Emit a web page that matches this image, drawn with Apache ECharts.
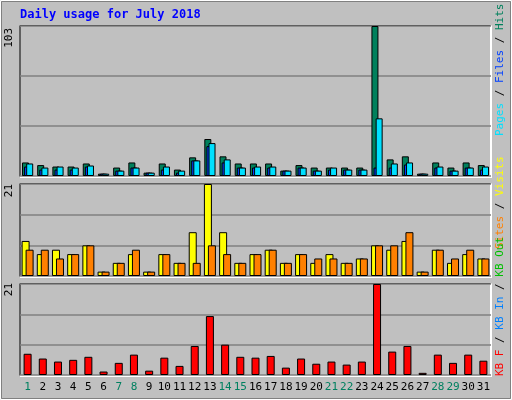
<!DOCTYPE html>
<html><head><meta charset="utf-8">
<script src="https://cdn.jsdelivr.net/npm/echarts@6/dist/echarts.min.js"></script>
<style>html,body{margin:0;padding:0;background:#c0c0c0}#c{width:512px;height:400px}</style>
</head><body><div id="c"></div>
<script>
const days = ['1','2','3','4','5','6','7','8','9','10','11','12','13','14','15','16','17','18','19','20','21','22','23','24','25','26','27','28','29','30','31'];
const weekends = ['1','7','8','14','15','21','22','28','29'];
const hits  = [9.3,7.5,6.5,6.5,8.6,1.6,5.8,9.3,2.3,8.6,4.4,12.8,25.4,13.5,8.6,8.6,8.6,3.7,7.5,5.8,5.8,5.8,5.8,103,11.4,13.5,1.6,9.3,5.8,9.3,7.5];
const files = [8.6,5.8,6.5,5.8,7.2,1.6,3.7,5.8,2.3,6.5,3.7,10.7,22.6,11.4,5.8,6.5,6.5,3.7,5.8,3.7,5.8,4.4,4.4,39.6,8.6,9.3,1.6,6.5,3.7,5.8,6.5];
const pages = [6.5,4.4,4.4,4.4,6.5,1.6,3.7,5.8,2.3,4.4,2.3,10.7,20.5,9.3,5.8,5.8,5.8,3.7,5.8,3.7,4.4,4.4,4.4,5.8,5.8,7.9,1.6,5.8,3.7,5.8,4.4];
const visits = [8,5,6,5,7,1,3,5,1,5,3,10,21,10,3,5,6,3,5,3,5,3,4,7,6,8,1,6,3,5,4];
const sites  = [6,6,4,5,7,1,3,6,1,5,3,3,7,5,3,5,6,3,5,4,4,3,4,7,7,10,1,6,4,6,4];
const kbF = [4.9,3.8,3.1,3.5,4.2,0.8,2.8,4.7,1,4,2.1,6.7,13.6,7,4.2,4,4.4,1.7,3.8,2.6,3.1,2.4,3.1,21,5.4,6.7,0.5,4.7,2.8,4.7,3.3];
const maxHits = 103, maxVisits = 21, maxKB = 21;

const font = '"DejaVu Sans Mono", monospace';
const grids = [
  {left:20, top:26, width:471, height:150},
  {left:20, top:184, width:471, height:92},
  {left:20, top:284, width:471, height:91}
];
const maxes = [maxHits, maxVisits, maxKB];
const xAxis = grids.map((g,i)=>({type:'category', gridIndex:i, data:days,
  axisLine:{show:false}, axisTick:{show:false},
  axisLabel:{show:i===2, interval:0, fontFamily:font, fontSize:11, margin:7,
    color:(v)=>weekends.includes(v)?'#008060':'#000'}}));
const yAxis = grids.map((g,i)=>({type:'value', gridIndex:i, min:0, max:maxes[i], interval:maxes[i]/3,
  axisLabel:{show:false}, axisLine:{show:false}, axisTick:{show:false},
  splitLine:{show:true, lineStyle:{color:'#808080', width:1.5}}}));
const bs = {borderColor:'#000', borderWidth:1};
const series = [
  {type:'bar', xAxisIndex:0, yAxisIndex:0, data:hits, barWidth:7, barGap:'-70%', itemStyle:{color:'#00805c',...bs}},
  {type:'bar', xAxisIndex:0, yAxisIndex:0, data:pages, barWidth:7, barGap:'-70%', itemStyle:{color:'#0040ff',...bs}},
  {type:'bar', xAxisIndex:0, yAxisIndex:0, data:files, barWidth:7, barGap:'-70%', itemStyle:{color:'#00e0ff',...bs}},
  {type:'bar', xAxisIndex:1, yAxisIndex:1, data:visits, barWidth:8, barGap:'-50%', itemStyle:{color:'#ffff00',...bs}},
  {type:'bar', xAxisIndex:1, yAxisIndex:1, data:sites, barWidth:8, barGap:'-50%', itemStyle:{color:'#ff8000',...bs}},
  {type:'bar', xAxisIndex:2, yAxisIndex:2, data:kbF, barWidth:8, itemStyle:{color:'#ff0000',...bs}}
];
const R = -Math.PI/2;
function vlabel(x,y,parts){
  const rich={}; let text='';
  parts.forEach((p,i)=>{rich['r'+i]={fill:p[1], fontFamily:font, fontSize:11}; text+='{r'+i+'|'+p[0]+'}';});
  return {type:'text', x:x, y:y, rotation:-R, style:{text:text, rich:rich, fontFamily:font, fontSize:11, textVerticalAlign:'middle'}};
}
const graphic = [
  {type:'rect', shape:{x:0.5,y:0.5,width:511,height:399}, style:{fill:'none', stroke:'#fff', lineWidth:1}},
  {type:'rect', shape:{x:1.5,y:1.5,width:509,height:397}, style:{fill:'none', stroke:'#808080', lineWidth:1}},
  {type:'polyline', shape:{points:[[20,176.5],[20,25.5],[491,25.5]]}, style:{stroke:'#000',fill:'none',lineWidth:1}},
  {type:'polyline', shape:{points:[[20,177],[491,177],[491,25.5]]}, style:{stroke:'#fff',fill:'none',lineWidth:2}},
  {type:'polyline', shape:{points:[[20,276.5],[20,183.5],[491,183.5]]}, style:{stroke:'#000',fill:'none',lineWidth:1}},
  {type:'polyline', shape:{points:[[20,277],[491,277],[491,183.5]]}, style:{stroke:'#fff',fill:'none',lineWidth:2}},
  {type:'polyline', shape:{points:[[20,375.5],[20,283.5],[491,283.5]]}, style:{stroke:'#000',fill:'none',lineWidth:1}},
  {type:'polyline', shape:{points:[[20,376],[491,376],[491,283.5]]}, style:{stroke:'#fff',fill:'none',lineWidth:2}},
  {type:'text', x:20, y:9, style:{text:'Daily usage for July 2018', fill:'#0000ff', font:'bold 12px '+font}},
  {type:'text', x:9, y:28, rotation:-R, style:{text:String(maxHits), fill:'#000', font:'11px '+font, textAlign:'right', textVerticalAlign:'middle'}},
  {type:'text', x:9, y:184, rotation:-R, style:{text:String(maxVisits), fill:'#000', font:'11px '+font, textAlign:'right', textVerticalAlign:'middle'}},
  {type:'text', x:9, y:283, rotation:-R, style:{text:String(maxKB), fill:'#000', font:'11px '+font, textAlign:'right', textVerticalAlign:'middle'}},
  vlabel(500,136,[['Pages','#00e0ff'],[' / ','#000'],['Files','#0040ff'],[' / ','#000'],['Hits','#00805c']]),
  vlabel(500,249,[['Sites','#ff8000'],[' / ','#000'],['Visits','#ffff00']]),
  vlabel(500,376,[['KB F','#ff0000'],[' / ','#000'],['KB In','#0080ff'],[' / ','#000'],['KB Out','#00c000']])
];
const chart = echarts.init(document.getElementById('c'));
chart.setOption({backgroundColor:'#c0c0c0', animation:false, grid:grids, xAxis:xAxis, yAxis:yAxis, series:series, graphic:graphic});
</script></body></html>
